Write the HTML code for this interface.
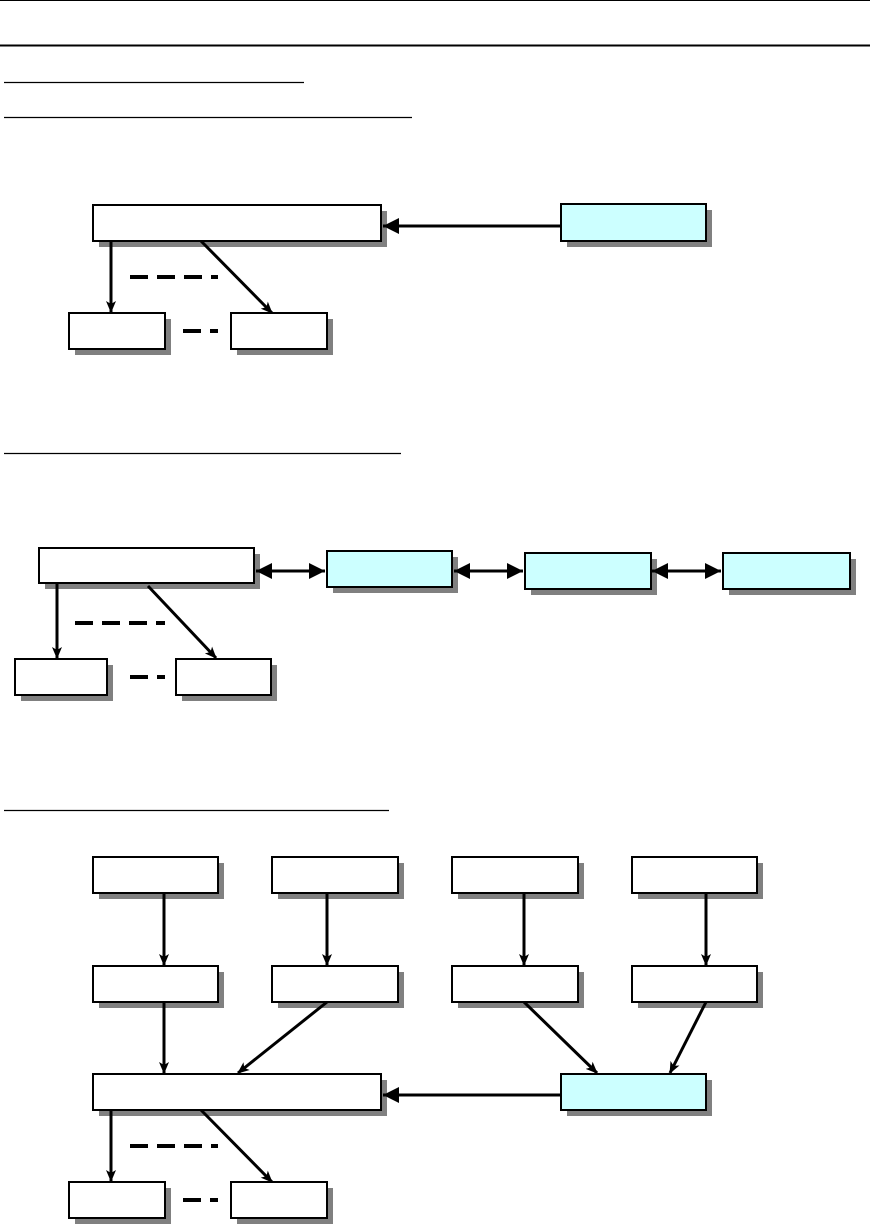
<!DOCTYPE html>
<html><head><meta charset="utf-8"><style>
html,body{margin:0;padding:0;background:#fff;}
svg{display:block;}
</style></head><body>
<svg width="870" height="1225" viewBox="0 0 870 1225" xmlns="http://www.w3.org/2000/svg">
<defs>
<marker id="o" viewBox="0 0 12 12" refX="11" refY="6" markerWidth="12" markerHeight="12" markerUnits="userSpaceOnUse" orient="auto">
<path d="M0,1 L12,6 L0,11 L3,6 Z" fill="#000"/>
</marker>
<marker id="f" viewBox="0 0 16 16" refX="16" refY="8" markerWidth="16" markerHeight="16" markerUnits="userSpaceOnUse" orient="auto-start-reverse">
<path d="M0,0 L16,8 L0,16 Z" fill="#000"/>
</marker>
</defs>
<!-- header lines -->
<line x1="0" y1="0.5" x2="870" y2="0.5" stroke="#000" stroke-width="1"/>
<line x1="0" y1="45.5" x2="870" y2="45.5" stroke="#000" stroke-width="2"/>
<g stroke="#000" stroke-width="1.2">
<line x1="4" y1="82.5" x2="304" y2="82.5"/>
<line x1="4" y1="117.5" x2="412" y2="117.5"/>
<line x1="4" y1="453.5" x2="401" y2="453.5"/>
<line x1="4" y1="810.5" x2="389" y2="810.5"/>
</g>
<!-- shadows -->
<g fill="#808080">
<rect x="99" y="211" width="288" height="36"/>
<rect x="567" y="210" width="145" height="37"/>
<rect x="75" y="319" width="96" height="36"/>
<rect x="237" y="319" width="96" height="36"/>

<rect x="45" y="554" width="215" height="35"/>
<rect x="333" y="557" width="125" height="36"/>
<rect x="531" y="559" width="126" height="36"/>
<rect x="729" y="559" width="127" height="36"/>
<rect x="21" y="665" width="92" height="36"/>
<rect x="182" y="665" width="95" height="36"/>

<rect x="99" y="863" width="125" height="36"/>
<rect x="278" y="863" width="126" height="36"/>
<rect x="458" y="863" width="126" height="36"/>
<rect x="638" y="863" width="125" height="36"/>
<rect x="99" y="972" width="125" height="36"/>
<rect x="278" y="972" width="126" height="36"/>
<rect x="458" y="972" width="126" height="36"/>
<rect x="638" y="972" width="125" height="36"/>
<rect x="99" y="1080" width="288" height="36"/>
<rect x="567" y="1080" width="145" height="36"/>
<rect x="75" y="1188" width="96" height="36"/>
<rect x="237" y="1188" width="96" height="36"/>
</g>
<!-- boxes -->
<g stroke="#000" stroke-width="2" fill="#fff">
<rect x="93" y="205" width="288" height="36"/>
<rect x="561" y="204" width="145" height="37" fill="#ccffff"/>
<rect x="69" y="313" width="96" height="36"/>
<rect x="231" y="313" width="96" height="36"/>

<rect x="39" y="548" width="215" height="35"/>
<rect x="327" y="551" width="125" height="36" fill="#ccffff"/>
<rect x="525" y="553" width="126" height="36" fill="#ccffff"/>
<rect x="723" y="553" width="127" height="36" fill="#ccffff"/>
<rect x="15" y="659" width="92" height="36"/>
<rect x="176" y="659" width="95" height="36"/>

<rect x="93" y="857" width="125" height="36"/>
<rect x="272" y="857" width="126" height="36"/>
<rect x="452" y="857" width="126" height="36"/>
<rect x="632" y="857" width="125" height="36"/>
<rect x="93" y="966" width="125" height="36"/>
<rect x="272" y="966" width="126" height="36"/>
<rect x="452" y="966" width="126" height="36"/>
<rect x="632" y="966" width="125" height="36"/>
<rect x="93" y="1074" width="288" height="36"/>
<rect x="561" y="1074" width="145" height="36" fill="#ccffff"/>
<rect x="69" y="1182" width="96" height="36"/>
<rect x="231" y="1182" width="96" height="36"/>
</g>
<!-- connectors -->
<g stroke="#000" stroke-width="3" fill="none">
<line x1="561" y1="226" x2="383" y2="226" marker-end="url(#f)"/>
<line x1="111" y1="242" x2="111" y2="312" marker-end="url(#o)"/>
<line x1="201" y1="241" x2="272" y2="313" marker-end="url(#o)"/>
<line x1="130" y1="277" x2="218" y2="277" stroke-width="4" stroke-dasharray="18,9"/>
<line x1="183" y1="331" x2="218" y2="331" stroke-width="4" stroke-dasharray="18,9"/>

<line x1="256" y1="571" x2="325" y2="571" marker-start="url(#f)" marker-end="url(#f)"/>
<line x1="454" y1="571" x2="523" y2="571" marker-start="url(#f)" marker-end="url(#f)"/>
<line x1="652" y1="571" x2="721" y2="571" marker-start="url(#f)" marker-end="url(#f)"/>
<line x1="57" y1="584" x2="57" y2="658" marker-end="url(#o)"/>
<line x1="148" y1="586" x2="216" y2="658" marker-end="url(#o)"/>
<line x1="75" y1="623" x2="165" y2="623" stroke-width="4" stroke-dasharray="18,9"/>
<line x1="130" y1="677" x2="165" y2="677" stroke-width="4" stroke-dasharray="18,9"/>

<line x1="164" y1="894" x2="164" y2="965" marker-end="url(#o)"/>
<line x1="327" y1="894" x2="327" y2="965" marker-end="url(#o)"/>
<line x1="524" y1="894" x2="524" y2="965" marker-end="url(#o)"/>
<line x1="706" y1="894" x2="706" y2="965" marker-end="url(#o)"/>
<line x1="164" y1="1003" x2="164" y2="1073" marker-end="url(#o)"/>
<line x1="327" y1="1002" x2="238" y2="1073" marker-end="url(#o)"/>
<line x1="524" y1="1002" x2="597" y2="1073" marker-end="url(#o)"/>
<line x1="706" y1="1002" x2="670" y2="1073" marker-end="url(#o)"/>
<line x1="561" y1="1095" x2="383" y2="1095" marker-end="url(#f)"/>
<line x1="111" y1="1111" x2="111" y2="1181" marker-end="url(#o)"/>
<line x1="201" y1="1110" x2="272" y2="1182" marker-end="url(#o)"/>
<line x1="130" y1="1146" x2="218" y2="1146" stroke-width="4" stroke-dasharray="18,9"/>
<line x1="183" y1="1200" x2="218" y2="1200" stroke-width="4" stroke-dasharray="18,9"/>
</g>
</svg>
</body></html>
